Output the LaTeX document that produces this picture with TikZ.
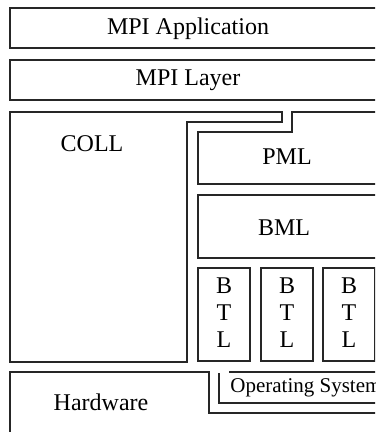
\documentclass[tikz,border=0pt]{standalone}
\usepackage{fontspec}
\setmainfont{Liberation Serif}
\usetikzlibrary{positioning}
\tikzset{
  layer/.style={line width=0.6pt, black!85},
  lbl/.style={inner sep=0pt, font=\fontsize{12}{13.5}\selectfont},
  smalllbl/.style={inner sep=0pt, anchor=west, font=\fontsize{10.5}{12}\selectfont},
}

\begin{document}
\begin{tikzpicture}[x=0.5pt,y=-0.5pt]
    \useasboundingbox (0,0) rectangle (375,432);
    \clip (0,0) rectangle (375,432);
    % top layers
    \draw[layer] (390,8) -- (10,8) -- (10,48) -- (390,48);
    \node[lbl] (app) at (188,29) {MPI Application};
    \draw[layer] (390,60) -- (10,60) -- (10,100) -- (390,100);
    \node[lbl] (mpi) at (188,80) {MPI Layer};
    % collectives
    \draw[layer] (10,112) -- (282,112) -- (282,122) -- (187,122) -- (187,362) -- (10,362) -- cycle;
    \node[lbl] (coll) at (92,144) {COLL};
    % point-to-point
    \draw[layer] (390,112) -- (292,112) -- (292,132) -- (198,132) -- (198,184) -- (390,184);
    \node[lbl] (pml) at (287,157) {PML};
    \draw[layer] (390,195) -- (198,195) -- (198,258) -- (390,258);
    \node[lbl] (bml) at (284,228) {BML};
    \foreach \x/\n in {198/1,261/2,323/3} {
      \draw[layer] (\x,268) rectangle ++(52,93);
      \node[lbl, align=center] (btl\n) at (\x+26,313) {B\\T\\L};
    }
    % bottom layers
    \draw[layer] (10,440) -- (10,372) -- (209,372) -- (209,413) -- (390,413);
    \node[lbl] (hw) at (101,402) {Hardware};
    \draw[layer] (219,373) -- (219,403) -- (390,403);
    \draw[layer] (229,372) -- (390,372);
    \node[smalllbl] (os) at (230,388) {Operating System};
\end{tikzpicture}
\end{document}
